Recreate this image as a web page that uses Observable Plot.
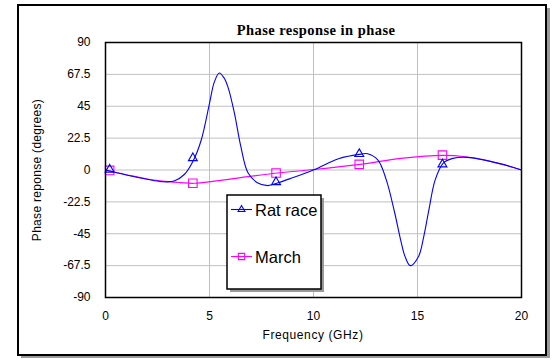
<!DOCTYPE html>
<html>
<head>
<meta charset="utf-8">
<script src="https://cdn.jsdelivr.net/npm/d3@7"></script>
<script src="https://cdn.jsdelivr.net/npm/@observablehq/plot@0.6"></script>
<style>
  html, body { margin: 0; padding: 0; background: #fff; }
  #chart svg { display: block; }
</style>
</head>
<body>
<div id="chart"></div>
<script>
// ---- Data ----
const title = "Phase response in phase";
const xLabel = "Frequency (GHz)";
const yLabel = "Phase reponse (degrees)";
const seriesNames = ["Rat race", "March"];
const xTicks = [0, 5, 10, 15, 20];
const yTicks = [-90, -67.5, -45, -22.5, 0, 22.5, 45, 67.5, 90];

// Rat race curve
const ratFreq  = [0, 1, 2, 2.7, 3.3, 3.8, 4.2, 4.6, 5.0, 5.23, 5.47, 5.7, 5.9, 6.2, 6.5, 6.85, 7.3, 7.8, 8.3, 8.9, 10.0, 11.2, 12.3, 12.6, 13.1, 13.5, 13.9, 14.2, 14.4, 14.65, 15.05, 15.3, 15.55, 15.85, 16.25, 16.7, 17.4, 18.9, 20];
const ratPhase = [0, -3.5, -6.5, -8.2, -7.8, -3, 6, 21, 47, 62, 68.5, 65, 58, 40, 17, -2, -9, -11, -9, -6, 0, 8, 11.2, 11.5, 7, -7, -30, -50, -61, -67.5, -61, -47, -28, -7, 5, 8.2, 8.9, 4.7, 0];

// March curve
const marchFreq  = [0, 1, 2, 3, 3.6, 4.25, 5.7, 6.85, 8.25, 10, 12.25, 14.2, 16.25, 17.3, 18.9, 20];
const marchPhase = [0, -3.3, -6.3, -8.2, -8.9, -9.4, -7, -4.7, -2.1, 0.3, 4, 8.2, 10.3, 9.3, 4.7, 0];

// Marker positions
const markerFreq  = [0.2, 4.2, 8.2, 12.2, 16.2];
const ratMarker   = [0.3, 8.4, -8.5, 11.3, 4];
const marchMarker = [-0.3, -9.4, -2.1, 4, 10.5];

// ---- Build rows ----
const ratRows   = ratFreq.map((f, i) => ({f, v: ratPhase[i]}));
const marchRows = marchFreq.map((f, i) => ({f, v: marchPhase[i]}));
const ratMk     = markerFreq.map((f, i) => ({f, v: ratMarker[i]}));
const marchMk   = markerFreq.map((f, i) => ({f, v: marchMarker[i]}));

const blue = "#0000ff", magenta = "#ff00ff";
const fontFam = "'Liberation Sans', Arial, sans-serif";

const chart = Plot.plot({
  width: 554,
  height: 362,
  marginLeft: 105,
  marginRight: 33,
  marginTop: 42,
  marginBottom: 65,
  style: {fontFamily: fontFam, fontSize: "12px", color: "#000", background: "transparent", overflow: "visible"},
  x: {domain: [0, 20]},
  y: {domain: [-90, 90]},
  marks: [
    Plot.gridX(xTicks, {stroke: "#c0c0c0", strokeOpacity: 1}),
    Plot.gridY(yTicks, {stroke: "#c0c0c0", strokeOpacity: 1}),
    Plot.line(marchRows, {x: "f", y: "v", stroke: magenta, strokeWidth: 1.1, curve: "catmull-rom"}),
    Plot.line(ratRows, {x: "f", y: "v", stroke: blue, strokeWidth: 1.1, curve: "catmull-rom"}),
    Plot.dot(marchMk, {x: "f", y: "v", symbol: "square", r: 4.8, stroke: magenta, fill: "none", strokeWidth: 1.1}),
    Plot.dot(ratMk, {x: "f", y: "v", symbol: "triangle", r: 3.3, stroke: blue, fill: "none", strokeWidth: 1.1}),
    Plot.frame({stroke: "#000", strokeWidth: 1.5}),
    Plot.axisX(xTicks, {tickSize: 0, tickPadding: 14, tickFormat: d => String(d), label: null, fontSize: 12}),
    Plot.axisY(yTicks, {tickSize: 0, tickPadding: 15, tickFormat: d => String(d), label: null, fontSize: 12})
  ]
});

document.getElementById("chart").appendChild(chart);

// ---- Decorations: outer frame, title, axis labels, legend ----
const svgSel = d3.select(chart);
const backG = svgSel.insert("g", ":first-child");
backG.append("rect").attr("x", 21).attr("y", 8).attr("width", 529).attr("height", 350).attr("fill", "#9a9a9a");
backG.append("rect").attr("x", 18).attr("y", 5).attr("width", 528).attr("height", 350).attr("fill", "#fff").attr("stroke", "#000").attr("stroke-width", 2);

const textG = svgSel.append("g");
textG.append("text").attr("x", 316).attr("y", 35).attr("text-anchor", "middle")
  .attr("font-family", "'Liberation Serif', 'Times New Roman', serif").attr("font-weight", "bold")
  .attr("font-size", 14.5).attr("letter-spacing", 0.45).attr("fill", "#000").text(title);
textG.append("text").attr("x", 313).attr("y", 339).attr("text-anchor", "middle")
  .attr("font-family", fontFam).attr("font-size", 12).attr("letter-spacing", 0.6).attr("fill", "#000").text(xLabel);
textG.append("text").attr("transform", "translate(41,170) rotate(-90)").attr("text-anchor", "middle")
  .attr("font-family", fontFam).attr("font-size", 12).attr("letter-spacing", 0.3).attr("fill", "#000").text(yLabel);

const legendG = svgSel.append("g").attr("text-anchor", "start");
legendG.append("rect").attr("x", 230).attr("y", 198).attr("width", 94).attr("height", 94).attr("fill", "#9a9a9a");
legendG.append("rect").attr("x", 227).attr("y", 195).attr("width", 94).attr("height", 94).attr("fill", "#fff").attr("stroke", "#000").attr("stroke-width", 1.5);
const entries = [
  {name: seriesNames[0], color: blue, sym: d3.symbolTriangle, size: 20, y: 209.5},
  {name: seriesNames[1], color: magenta, sym: d3.symbolSquare, size: 40, y: 256.5}
];
for (const e of entries) {
  legendG.append("line").attr("x1", 231).attr("x2", 252).attr("y1", e.y).attr("y2", e.y).attr("stroke", e.color).attr("stroke-width", 1.1);
  legendG.append("path").attr("d", d3.symbol(e.sym, e.size)()).attr("transform", `translate(241.5,${e.y})`)
    .attr("fill", "none").attr("stroke", e.color).attr("stroke-width", 1.1);
  legendG.append("text").attr("x", 255).attr("y", e.y + 6).attr("text-anchor", "start").attr("font-family", fontFam).attr("font-size", 16.5)
    .attr("fill", "#000").text(e.name);
}
</script>
</body>
</html>
